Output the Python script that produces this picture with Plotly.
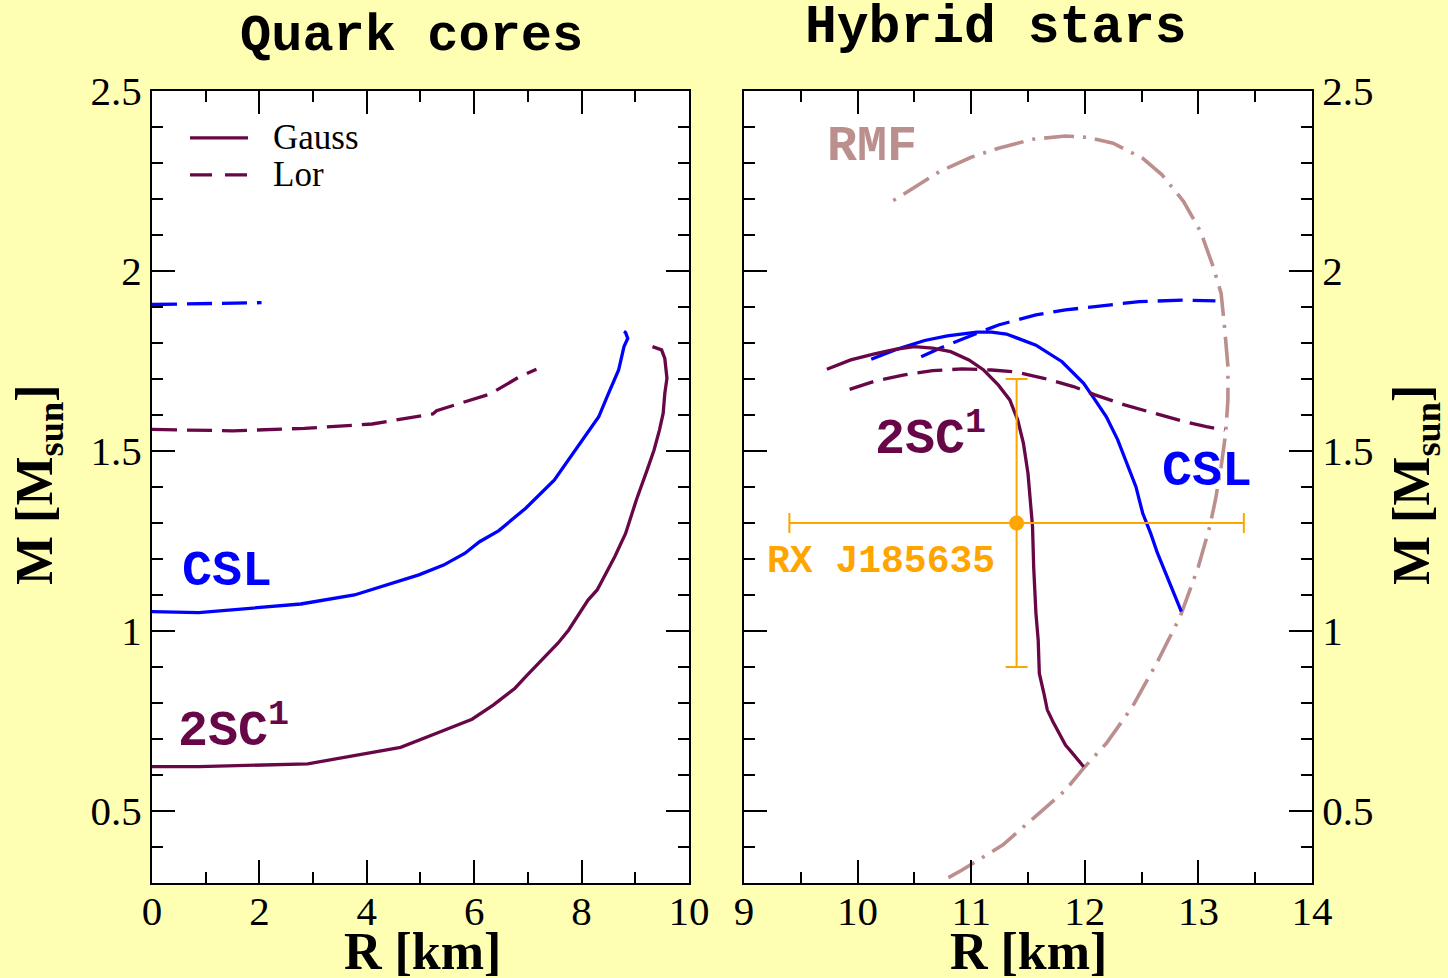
import plotly.graph_objects as go

# ---------------- data ----------------
# Left panel: quark cores, M [Msun] vs R [km]
core_csl_lor_r = [0.0, 0.5, 1.0, 1.5, 2.04]
core_csl_lor_m = [1.907, 1.908, 1.909, 1.910, 1.912]

core_2sc_lor_r = [0.0, 1.5, 2.84, 4.1, 5.23, 5.3, 6.29, 6.83, 7.16]
core_2sc_lor_m = [1.560, 1.556, 1.563, 1.575, 1.603, 1.612, 1.658, 1.705, 1.727]

core_csl_r = [0.0, 0.87, 2.77, 3.77, 4.97, 5.43, 5.83, 6.10, 6.46, 6.96, 7.49,
              7.86, 8.09, 8.32, 8.49, 8.69, 8.79, 8.86, 8.82, 8.79]
core_csl_m = [1.054, 1.051, 1.075, 1.100, 1.156, 1.183, 1.216, 1.248, 1.279, 1.341, 1.419,
              1.498, 1.544, 1.595, 1.656, 1.725, 1.790, 1.813, 1.829, 1.832]

core_2sc_r = [0.0, 0.87, 2.90, 4.63, 5.30, 5.96, 6.36, 6.76, 6.96, 7.29, 7.56, 7.76, 8.12,
              8.29, 8.62, 8.82, 8.95, 9.02, 9.22, 9.35, 9.45, 9.52, 9.55, 9.59, 9.55, 9.49, 9.32]
core_2sc_m = [0.623, 0.623, 0.631, 0.677, 0.716, 0.755, 0.795, 0.841, 0.873, 0.924, 0.966, 1.003, 1.086,
              1.114, 1.207, 1.271, 1.336, 1.364, 1.447, 1.503, 1.558, 1.605, 1.660, 1.702, 1.757, 1.781, 1.790]

# Right panel: hybrid stars
rmf_r = [10.80, 10.92, 11.28, 11.60, 11.83, 11.99, 12.19, 12.42, 12.64, 12.84, 13.00, 13.10,
         13.15, 13.20, 13.24, 13.26, 13.26, 13.23, 13.20, 13.13, 13.02, 12.87, 12.68, 12.51,
         12.25, 12.03, 11.83, 11.54, 11.24, 11.00, 10.72, 10.37, 10.26]
rmf_m = [0.315, 0.336, 0.406, 0.494, 0.558, 0.619, 0.688, 0.790, 0.915, 1.040, 1.179, 1.290,
         1.364, 1.456, 1.549, 1.642, 1.734, 1.845, 1.938, 2.012, 2.109, 2.193, 2.267, 2.313,
         2.355, 2.371, 2.375, 2.366, 2.341, 2.316, 2.276, 2.206, 2.186]

hyb_csl_r = [10.12, 10.33, 10.59, 10.79, 11.05, 11.18, 11.31, 11.57, 11.80, 11.99, 12.09,
             12.19, 12.29, 12.38, 12.45, 12.51, 12.58, 12.64, 12.71, 12.77, 12.85]
hyb_csl_m = [1.755, 1.781, 1.807, 1.820, 1.830, 1.830, 1.825, 1.794, 1.748, 1.688, 1.642,
             1.595, 1.531, 1.456, 1.401, 1.327, 1.271, 1.216, 1.160, 1.114, 1.054]

hyb_csl_lor_r = [10.56, 10.72, 11.05, 11.24, 11.57, 11.83, 12.09, 12.48, 12.87, 13.15]
hyb_csl_lor_m = [1.762, 1.785, 1.827, 1.850, 1.878, 1.892, 1.901, 1.915, 1.919, 1.917]

hyb_2sc_r = [9.73, 9.94, 10.14, 10.33, 10.50, 10.66, 10.82, 10.98, 11.11, 11.24, 11.34, 11.41,
             11.46, 11.50, 11.52, 11.54, 11.55, 11.56, 11.57, 11.59, 11.60, 11.64, 11.67, 11.72,
             11.77, 11.83, 11.88, 11.94, 11.99]
hyb_2sc_m = [1.727, 1.753, 1.769, 1.782, 1.790, 1.786, 1.776, 1.753, 1.725, 1.683, 1.642, 1.586,
             1.521, 1.438, 1.364, 1.290, 1.179, 1.086, 1.049, 0.975, 0.882, 0.827, 0.781, 0.748,
             0.720, 0.683, 0.665, 0.642, 0.623]

hyb_2sc_lor_r = [9.93, 10.14, 10.40, 10.66, 10.92, 11.18, 11.38, 11.64, 11.90, 12.09, 12.35,
                 12.61, 12.87, 13.07, 13.23]
hyb_2sc_lor_m = [1.671, 1.693, 1.711, 1.723, 1.728, 1.725, 1.720, 1.702, 1.679, 1.656, 1.628,
                 1.605, 1.582, 1.568, 1.558]

# RX J185635 constraint
rx_r, rx_m = [11.4], [1.3]
rx_dr, rx_dm = [2.0], [0.4]

# ---------------- styles ----------------
BG = "#FFFFB4"
MAROON = "#670748"
BLUE = "#0000FF"
ROSY = "#BC8F8F"
ORANGE = "#FFA500"
SERIF = "Liberation Serif, Times New Roman, serif"
MONO = "Courier New, Liberation Mono, monospace"
DASH = "25px,10px"
DASHDOT = "30px,9px,3px,9px"

fig = go.Figure()


def curve(x, y, color, dash, xa, ya, width=3.3):
    fig.add_trace(go.Scatter(x=x, y=y, mode="lines", xaxis=xa, yaxis=ya,
                             line=dict(color=color, width=width, dash=dash),
                             showlegend=False, hoverinfo="skip"))


curve(core_csl_lor_r, core_csl_lor_m, BLUE, DASH, "x", "y")
curve(core_2sc_lor_r, core_2sc_lor_m, MAROON, DASH, "x", "y")
curve(core_csl_r, core_csl_m, BLUE, "solid", "x", "y")
curve(core_2sc_r, core_2sc_m, MAROON, "solid", "x", "y")

curve(rmf_r, rmf_m, ROSY, DASHDOT, "x2", "y2", width=3.6)
curve(hyb_csl_lor_r, hyb_csl_lor_m, BLUE, DASH, "x2", "y2")
curve(hyb_csl_r, hyb_csl_m, BLUE, "solid", "x2", "y2")
curve(hyb_2sc_lor_r, hyb_2sc_lor_m, MAROON, DASH, "x2", "y2")
curve(hyb_2sc_r, hyb_2sc_m, MAROON, "solid", "x2", "y2")

fig.add_trace(go.Scatter(
    x=rx_r, y=rx_m, mode="markers", xaxis="x2", yaxis="y2",
    marker=dict(color=ORANGE, size=15),
    error_x=dict(type="data", array=rx_dr, color=ORANGE, thickness=2, width=10),
    error_y=dict(type="data", array=rx_dm, color=ORANGE, thickness=2, width=11),
    showlegend=False, hoverinfo="skip"))

# ---------------- axes ----------------
tickfont = dict(family=SERIF, size=41, color="black")


def axis_style(dtick, minor_dtick, **kw):
    d = dict(showline=True, linecolor="black", linewidth=2, mirror="allticks",
             ticks="inside", ticklen=23, tickwidth=2, tickcolor="black",
             dtick=dtick, tick0=0, showgrid=False, zeroline=False,
             tickfont=tickfont, automargin=False,
             minor=dict(dtick=minor_dtick, ticks="inside", ticklen=11,
                        tickwidth=2, tickcolor="black", showgrid=False))
    d.update(kw)
    return d


fig.update_layout(
    width=1448, height=978,
    margin=dict(l=152, r=136, t=91, b=95),
    paper_bgcolor=BG, plot_bgcolor="white",
    showlegend=False,
    xaxis=axis_style(2, 1, domain=[0, 0.4629], range=[0, 10], anchor="y",
                     ticklabelstandoff=-9),
    yaxis=axis_style(0.5, 0.1, range=[0.3, 2.5], anchor="x"),
    xaxis2=axis_style(1, 0.5, domain=[0.5103, 1], range=[9, 14], anchor="y2",
                      ticklabelstandoff=-9),
    yaxis2=axis_style(0.5, 0.1, range=[0.3, 2.5], anchor="x2", side="right"),
)

# ---------------- text ----------------
ann = []


def text(x, y, s, size, color="black", family=MONO, xref="paper", yref="paper",
         angle=0, xanchor="center"):
    ann.append(dict(x=x, y=y, xref=xref, yref=yref, text=s, showarrow=False,
                    textangle=angle, xanchor=xanchor, yanchor="middle",
                    font=dict(family=family, size=size, color=color)))


# panel titles
text(0.2233, 1.0682, "<b>Quark cores</b>", 52)
text(0.7276, 1.0790, "<b>Hybrid stars</b>", 53)

# axis titles
text(0.2328, -0.0860, "<b>R [km]</b>", 52, family=SERIF)
text(0.7552, -0.0860, "<b>R [km]</b>", 52, family=SERIF)
text(-0.0983, 0.5025, "<b>M [M<sub>sun</sub>]</b>", 52, family=SERIF, angle=-90)
text(1.0888, 0.5025, "<b>M [M<sub>sun</sub>]</b>", 52, family=SERIF, angle=-90)

# curve labels
text(1.40, 1.164, "<b>CSL</b>", 50, BLUE, xref="x", yref="y")
text(0.45, 0.733, "<b>2SC<sup>1</sup></b>", 50, MAROON, xref="x", yref="y", xanchor="left")
text(10.14, 1.544, "<b>2SC<sup>1</sup></b>", 50, MAROON, xref="x2", yref="y2", xanchor="left")
text(13.08, 1.442, "<b>CSL</b>", 50, BLUE, xref="x2", yref="y2")
text(10.13, 2.347, "<b>RMF</b>", 50, ROSY, xref="x2", yref="y2")
text(10.21, 1.192, "<b>RX J185635</b>", 38, ORANGE, xref="x2", yref="y2")

# line-style key
text(0.2216, 0.9407, "Gauss", 35, family=SERIF, xref="x domain", yref="y domain", xanchor="left")
text(0.2216, 0.8940, "Lor", 35, family=SERIF, xref="x domain", yref="y domain", xanchor="left")
fig.update_layout(annotations=ann)

fig.add_shape(type="line", xref="x domain", yref="y domain", x0=0.0708, x1=0.1788,
              y0=0.9407, y1=0.9407, line=dict(color=MAROON, width=3.3))
fig.add_shape(type="line", xref="x domain", yref="y domain", x0=0.0708, x1=0.1788,
              y0=0.8940, y1=0.8940, line=dict(color=MAROON, width=3.3, dash="22px,13px"))

fig.write_html("out.html")
